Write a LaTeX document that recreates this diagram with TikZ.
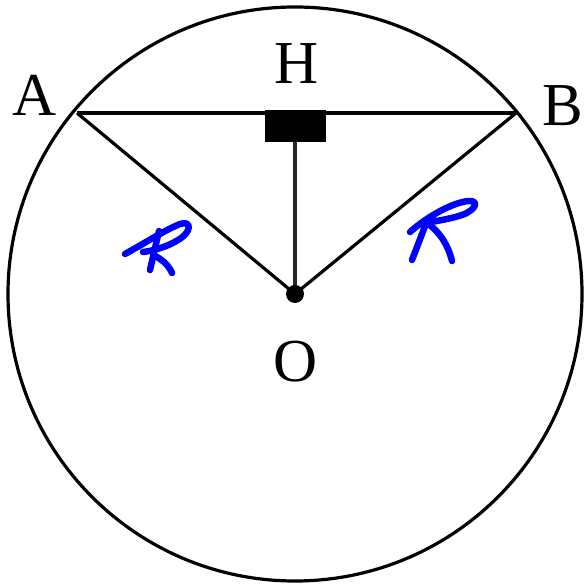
\documentclass[tikz,border=0pt]{standalone}
\usepackage{fontspec}
\setmainfont{Liberation Serif}
\begin{document}
\begin{tikzpicture}[x=1pt,y=-1pt,
  geo/.style={line width=3.2pt,black},
  lbl/.style={font=\fontsize{61}{63}\selectfont,inner sep=0pt},
  hand/.style={line width=6.5pt,blue,line cap=round,line join=round}]
\useasboundingbox (0,0) rectangle (587,585);
\coordinate (O) at (295,294);
\coordinate (A) at (77,113);
\coordinate (B) at (516,113);
\coordinate (Hb) at (295,141);
\draw[geo] (O) circle[radius=287];
\draw[geo] (A) -- (B);
\draw[geo] (A) -- (O) -- (B);
\draw[geo,line width=4.5pt,black!85] (Hb) -- (O);
\fill[black] (265,110) rectangle (326,142);
\fill[black] (O) circle[radius=9];
\node[lbl] (lA) at (35,95) {A};
\node[lbl] (lB) at (563,106) {B};
\node[lbl] (lH) at (297,64) {H};
\node[lbl] (lO) at (296,362) {O};
% left handwritten R
\draw[hand] (150,270) -- (159,231);
\draw[hand] (125,254) .. controls (145,243) and (165,230) .. (180,224)
  .. controls (192,220) and (192,232) .. (178,240)
  .. controls (167,247) and (152,251) .. (143,252);
\draw[hand] (155,256) .. controls (163,260) and (169,266) .. (172,273);
% right handwritten R
\draw[hand] (412,260) -- (427,221);
\draw[hand] (410,232) .. controls (428,216) and (452,203) .. (468,201)
  .. controls (480,200) and (476,210) .. (462,215)
  .. controls (450,219) and (436,221) .. (426,223);
\draw[hand] (427,223) .. controls (440,232) and (448,245) .. (452,261);
\end{tikzpicture}
\end{document}
